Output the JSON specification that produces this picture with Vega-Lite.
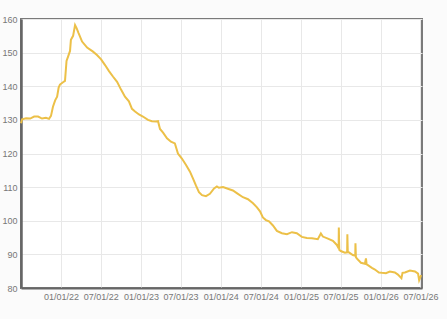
{
  "$schema": "https://vega.github.io/schema/vega-lite/v6.json",
  "width": 401,
  "height": 269,
  "autosize": "none",
  "padding": {"left": 21, "top": 19, "right": 25, "bottom": 31},
  "background": "#fbfbfb",
  "config": {
    "font": "Liberation Sans",
    "view": {"stroke": "#7a7a7a", "strokeWidth": 2, "fill": "white"}
  },
  "data": {"values": [
    {"date": "2021-07-02", "v": 129.0},
    {"date": "2021-07-07", "v": 130.2},
    {"date": "2021-07-25", "v": 130.5},
    {"date": "2021-08-13", "v": 130.4},
    {"date": "2021-08-31", "v": 131.0},
    {"date": "2021-09-18", "v": 131.0},
    {"date": "2021-10-06", "v": 130.4},
    {"date": "2021-10-24", "v": 130.6},
    {"date": "2021-11-07", "v": 130.3},
    {"date": "2021-11-16", "v": 131.2},
    {"date": "2021-11-25", "v": 133.9},
    {"date": "2021-12-05", "v": 135.8},
    {"date": "2021-12-14", "v": 136.9},
    {"date": "2021-12-21", "v": 139.6},
    {"date": "2021-12-27", "v": 140.5},
    {"date": "2022-01-10", "v": 141.2},
    {"date": "2022-01-19", "v": 141.6},
    {"date": "2022-01-26", "v": 147.5},
    {"date": "2022-02-02", "v": 148.8},
    {"date": "2022-02-11", "v": 150.5},
    {"date": "2022-02-15", "v": 153.8},
    {"date": "2022-02-25", "v": 155.0},
    {"date": "2022-03-06", "v": 158.2},
    {"date": "2022-03-13", "v": 157.3},
    {"date": "2022-03-22", "v": 155.8},
    {"date": "2022-04-07", "v": 153.3},
    {"date": "2022-04-30", "v": 151.5},
    {"date": "2022-05-27", "v": 150.3},
    {"date": "2022-06-14", "v": 149.3},
    {"date": "2022-07-03", "v": 148.0},
    {"date": "2022-07-21", "v": 146.3},
    {"date": "2022-08-08", "v": 144.5},
    {"date": "2022-08-26", "v": 142.9},
    {"date": "2022-09-14", "v": 141.3},
    {"date": "2022-10-02", "v": 139.0},
    {"date": "2022-10-20", "v": 136.9},
    {"date": "2022-11-07", "v": 135.5},
    {"date": "2022-11-21", "v": 133.3},
    {"date": "2022-12-05", "v": 132.5},
    {"date": "2022-12-23", "v": 131.6},
    {"date": "2023-01-10", "v": 131.0},
    {"date": "2023-02-02", "v": 130.0},
    {"date": "2023-02-20", "v": 129.6},
    {"date": "2023-03-11", "v": 129.5},
    {"date": "2023-03-20", "v": 129.6},
    {"date": "2023-03-29", "v": 127.3},
    {"date": "2023-04-12", "v": 126.2},
    {"date": "2023-04-30", "v": 124.5},
    {"date": "2023-05-18", "v": 123.5},
    {"date": "2023-06-05", "v": 123.0},
    {"date": "2023-06-19", "v": 120.0},
    {"date": "2023-07-07", "v": 118.5},
    {"date": "2023-07-26", "v": 116.6},
    {"date": "2023-08-13", "v": 114.6},
    {"date": "2023-08-27", "v": 112.5},
    {"date": "2023-09-09", "v": 110.5},
    {"date": "2023-09-23", "v": 108.5},
    {"date": "2023-10-07", "v": 107.6},
    {"date": "2023-10-25", "v": 107.3},
    {"date": "2023-11-12", "v": 108.0},
    {"date": "2023-12-01", "v": 109.6},
    {"date": "2023-12-14", "v": 110.2},
    {"date": "2023-12-23", "v": 109.8},
    {"date": "2024-01-11", "v": 110.0},
    {"date": "2024-02-02", "v": 109.5},
    {"date": "2024-02-25", "v": 109.0},
    {"date": "2024-03-19", "v": 108.0},
    {"date": "2024-04-11", "v": 107.0},
    {"date": "2024-05-04", "v": 106.4},
    {"date": "2024-05-27", "v": 105.2},
    {"date": "2024-06-14", "v": 104.0},
    {"date": "2024-06-28", "v": 102.8},
    {"date": "2024-07-11", "v": 101.0},
    {"date": "2024-07-25", "v": 100.2},
    {"date": "2024-08-08", "v": 99.8},
    {"date": "2024-08-26", "v": 98.6},
    {"date": "2024-09-13", "v": 97.0},
    {"date": "2024-10-06", "v": 96.3},
    {"date": "2024-10-29", "v": 96.0},
    {"date": "2024-11-21", "v": 96.6},
    {"date": "2024-12-13", "v": 96.3},
    {"date": "2025-01-05", "v": 95.2},
    {"date": "2025-01-28", "v": 94.9},
    {"date": "2025-02-20", "v": 94.8},
    {"date": "2025-03-19", "v": 94.5},
    {"date": "2025-04-02", "v": 96.2},
    {"date": "2025-04-11", "v": 95.3},
    {"date": "2025-05-04", "v": 94.7},
    {"date": "2025-05-27", "v": 94.0},
    {"date": "2025-06-14", "v": 92.8},
    {"date": "2025-06-22", "v": 91.8},
    {"date": "2025-06-23", "v": 98.0},
    {"date": "2025-06-25", "v": 91.4},
    {"date": "2025-07-02", "v": 91.0},
    {"date": "2025-07-21", "v": 90.5},
    {"date": "2025-07-31", "v": 90.6},
    {"date": "2025-08-01", "v": 96.0},
    {"date": "2025-08-03", "v": 90.8},
    {"date": "2025-08-08", "v": 90.6},
    {"date": "2025-08-26", "v": 89.8},
    {"date": "2025-09-06", "v": 89.6},
    {"date": "2025-09-07", "v": 93.3},
    {"date": "2025-09-09", "v": 89.2},
    {"date": "2025-09-13", "v": 88.8},
    {"date": "2025-10-02", "v": 87.5},
    {"date": "2025-10-20", "v": 87.2},
    {"date": "2025-10-25", "v": 88.8},
    {"date": "2025-10-28", "v": 87.0},
    {"date": "2025-11-03", "v": 86.8},
    {"date": "2025-11-21", "v": 86.0},
    {"date": "2025-12-05", "v": 85.5},
    {"date": "2025-12-23", "v": 84.6},
    {"date": "2026-01-06", "v": 84.5},
    {"date": "2026-01-24", "v": 84.4},
    {"date": "2026-02-11", "v": 84.9},
    {"date": "2026-03-06", "v": 84.6},
    {"date": "2026-03-20", "v": 84.0},
    {"date": "2026-04-05", "v": 82.9},
    {"date": "2026-04-10", "v": 84.5},
    {"date": "2026-04-21", "v": 84.6},
    {"date": "2026-05-14", "v": 85.2},
    {"date": "2026-06-06", "v": 84.9},
    {"date": "2026-06-20", "v": 84.3},
    {"date": "2026-06-25", "v": 82.3},
    {"date": "2026-07-04", "v": 83.8}
  ]},
  "mark": {"type": "line", "color": "#ecc048", "strokeWidth": 2, "interpolate": "linear"},
  "encoding": {
    "x": {
      "field": "date",
      "type": "temporal",
      "scale": {
        "type": "utc",
        "domain": [
          {"year": 2021, "month": 7, "date": 2, "utc": true},
          {"year": 2026, "month": 7, "date": 8, "utc": true}
        ]
      },
      "axis": {
        "title": null,
        "values": [
          {"year": 2022, "month": 1, "date": 1, "utc": true},
          {"year": 2022, "month": 7, "date": 1, "utc": true},
          {"year": 2023, "month": 1, "date": 1, "utc": true},
          {"year": 2023, "month": 7, "date": 1, "utc": true},
          {"year": 2024, "month": 1, "date": 1, "utc": true},
          {"year": 2024, "month": 7, "date": 1, "utc": true},
          {"year": 2025, "month": 1, "date": 1, "utc": true},
          {"year": 2025, "month": 7, "date": 1, "utc": true},
          {"year": 2026, "month": 1, "date": 1, "utc": true},
          {"year": 2026, "month": 7, "date": 1, "utc": true}
        ],
        "format": "%m/%d/%y",
        "labelFontSize": 9,
        "labelColor": "#777777",
        "labelPadding": 4,
        "ticks": false,
        "domainColor": "#666666",
        "domainWidth": 2,
        "gridColor": "#e8e8e8",
        "labelOverlap": false,
        "labelFlush": false
      }
    },
    "y": {
      "field": "v",
      "type": "quantitative",
      "scale": {"domain": [80, 160], "nice": false, "zero": false},
      "axis": {
        "title": null,
        "values": [80, 90, 100, 110, 120, 130, 140, 150, 160],
        "labelFontSize": 9,
        "labelColor": "#777777",
        "labelPadding": 4,
        "ticks": false,
        "domainColor": "#666666",
        "domainWidth": 2.5,
        "gridColor": "#e8e8e8"
      }
    }
  }
}
